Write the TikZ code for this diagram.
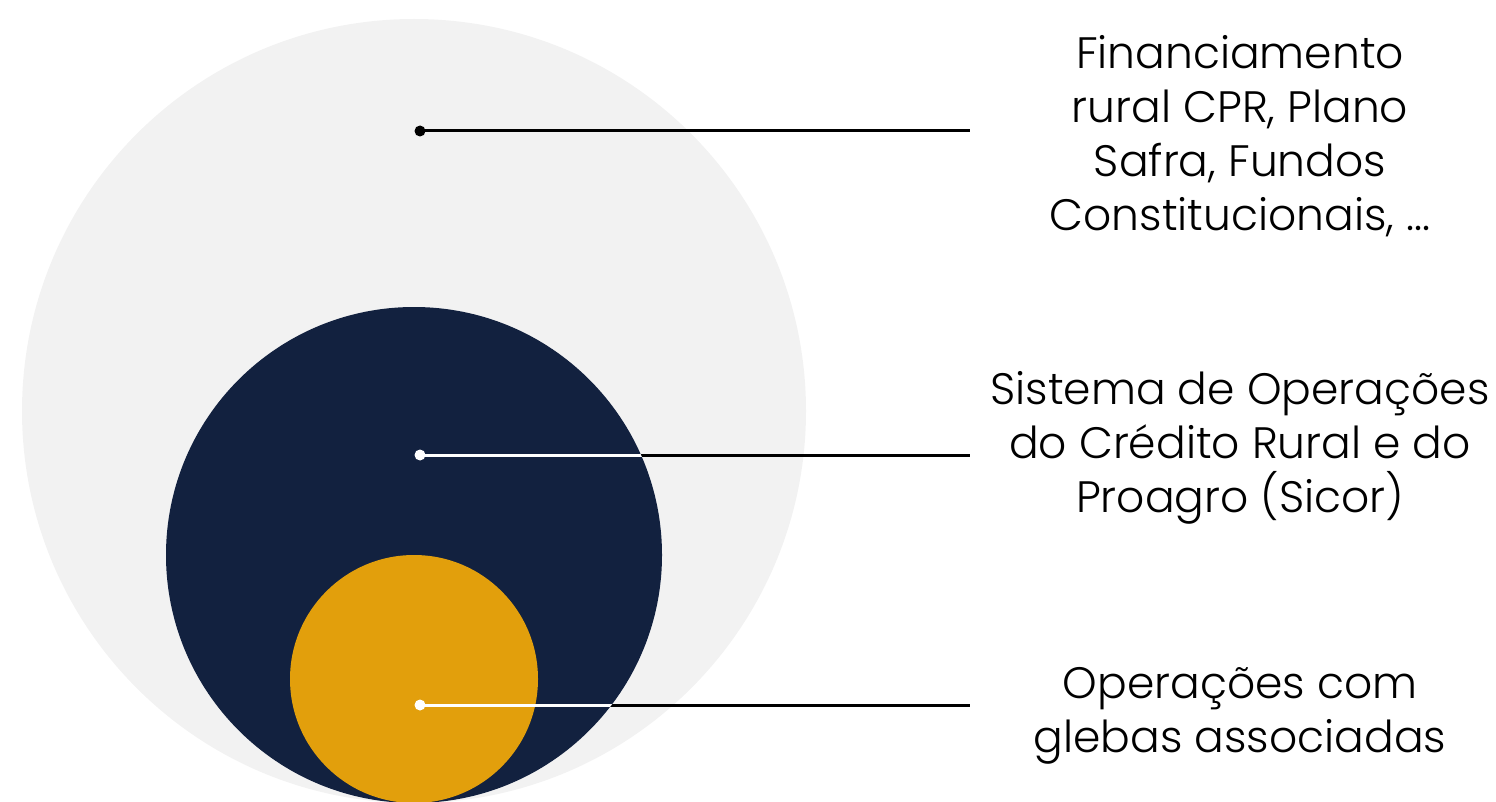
\documentclass[tikz,border=0pt]{standalone}
\usepackage{fontspec}
\setmainfont{Poppins}[UprightFont={* Light}]
\definecolor{bgcirc}{HTML}{F2F2F2}
\definecolor{navy}{HTML}{12213F}
\definecolor{gold}{HTML}{E29F0C}
\begin{document}
\begin{tikzpicture}[x=1pt,y=-1pt,
  dotnode/.style={circle,inner sep=0pt,minimum size=11pt},
  conn/.style={line width=3pt},
  lbl/.style={align=center,font=\fontsize{44}{54}\selectfont,inner sep=0pt}]
\useasboundingbox (0,0) rectangle (1496,802);
\begin{scope}
\clip (0,0) rectangle (1496,802);
\fill[bgcirc] (414,411) circle[radius=392];
\coordinate (e1) at (970,131);
\coordinate (e2) at (970,455);
\coordinate (e3) at (970,705);
\node[dotnode] (d1) at (420,131) {};
\node[dotnode] (d2) at (420,455) {};
\node[dotnode] (d3) at (420,705) {};
\draw[conn,black] (d1.center) -- (e1);
\draw[conn,black] (d2.center) -- (e2);
\draw[conn,black] (d3.center) -- (e3);
\fill[navy] (414,555) circle[radius=248];
\fill[gold] (414,679) circle[radius=124];
\begin{scope}
\clip (414,555) circle[radius=248];
\draw[conn,white] (d2.center) -- (e2);
\draw[conn,white] (d3.center) -- (e3);
\end{scope}
\fill[black] (d1) circle[radius=5.5];
\fill[white] (d2) circle[radius=5.5];
\fill[white] (d3) circle[radius=5.5];
\end{scope}
\node[lbl] (t1) at (1240,136) {Financiamento\\rural CPR, Plano\\Safra, Fundos\\Constitucionais, ...};
\node[lbl] (t2) at (1240,448) {Sistema de Operações\\do Crédito Rural e do\\Proagro (Sicor)};
\node[lbl] (t3) at (1240,716) {Operações com\\glebas associadas};
\end{tikzpicture}
\end{document}
